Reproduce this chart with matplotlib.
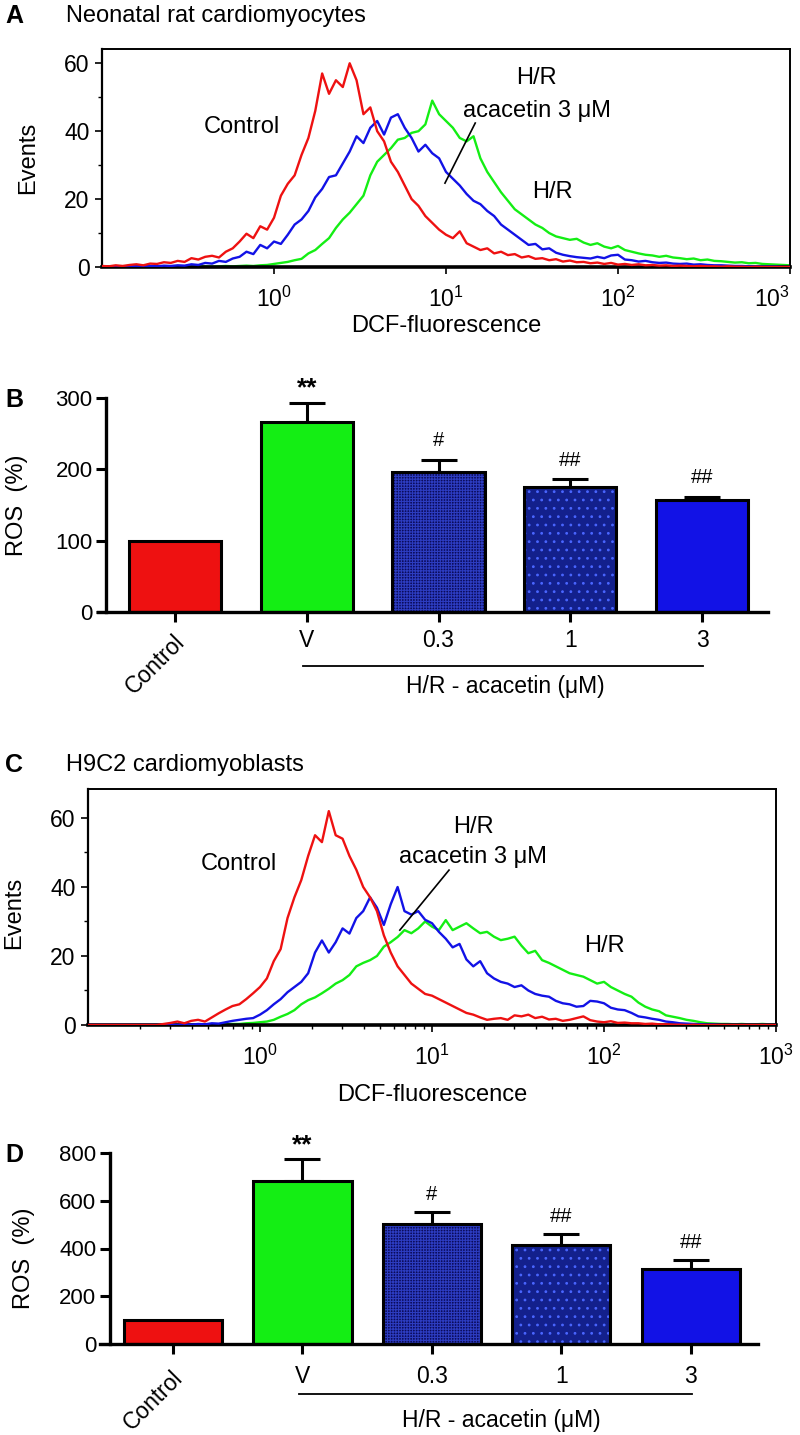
import numpy as np
import matplotlib
matplotlib.use('Agg')
import matplotlib.pyplot as plt
from matplotlib.ticker import FixedLocator, NullFormatter, LogLocator

plt.rcParams['font.family'] = ['Liberation Sans', 'DejaVu Sans']
plt.rcParams['mathtext.fontset'] = 'custom'
plt.rcParams['mathtext.rm'] = 'Liberation Sans'
plt.rcParams['mathtext.it'] = 'Liberation Sans:italic'
plt.rcParams['hatch.linewidth'] = 0.8

# ---------------- histogram data (log10 channel grid, 0.04 decade) ----------------
log_bins = np.round(np.arange(-1.0, 3.0001, 0.04), 2)

A_control = [0.3, 0.2, 0.5, 0.3, 0.6, 0.8, 0.5, 1.0, 0.9, 1.4,
             1.2, 1.8, 1.5, 2.6, 2.2, 3.0, 3.3, 2.8, 4.5, 5.5,
             7.5, 9.8, 8.5, 12.0, 11.0, 14.5, 21.0, 24.5, 27.0, 33.0,
             38, 46, 57, 51, 55, 53, 60, 55, 45, 47,
             40, 37, 31, 28, 24, 20, 18, 15, 13, 11,
             9.5, 8.5, 10.5, 7.0, 6.0, 5.0, 5.5, 4.0, 4.5, 3.5,
             3.8, 2.8, 3.2, 2.4, 2.6, 2.0, 2.3, 1.6, 1.9, 1.4,
             1.5, 1.1, 1.3, 0.9, 1.2, 0.7, 0.9, 0.6, 0.8, 0.5,
             0.6, 0.4, 0.5, 0.3, 0.4, 0.3, 0.2, 0.3, 0.2, 0.2,
             0.1, 0.2, 0.1, 0.1, 0.0, 0.1, 0.0, 0.0, 0.0, 0.0,
             0.0]
A_acacetin = [0.1, 0.0, 0.2, 0.1, 0.3, 0.2, 0.1, 0.3, 0.2, 0.4,
              0.3, 0.5, 0.4, 0.8, 0.6, 1.2, 1.0, 1.8, 1.5, 2.5,
              3.0, 4.5, 3.8, 6.5, 5.5, 7.5, 6.8, 9.5, 12.5, 14.0,
              16.5, 20.5, 23, 26.5, 27, 30.5, 34, 38.5, 36.5, 41,
              43, 39, 44, 45, 41, 38, 34, 36, 33.5, 32,
              28, 26, 24, 21.5, 19.5, 18.5, 16.5, 15, 12.5, 11,
              9.5, 8.0, 6.5, 6.8, 5.2, 5.5, 4.2, 3.6, 3.2, 2.9,
              2.7, 2.5, 3.0, 2.6, 3.4, 3.6, 2.2, 2.0, 1.6, 1.8,
              1.4, 1.2, 1.3, 1.0, 0.9, 1.0, 0.7, 0.8, 0.6, 0.5,
              0.5, 0.4, 0.3, 0.3, 0.2, 0.2, 0.1, 0.1, 0.1, 0.0,
              0.0]
A_HR = [0, 0, 0, 0, 0, 0, 0, 0, 0, 0.1,
        0.0, 0.1, 0.0, 0.1, 0.1, 0.2, 0.1, 0.2, 0.3, 0.2,
        0.3, 0.4, 0.3, 0.5, 0.6, 0.9, 1.2, 1.5, 2.0, 2.4,
        4.0, 5.0, 6.8, 8.5, 11.5, 14, 16, 18.5, 21, 27,
        31, 33, 35, 37.5, 38, 39.5, 40, 42, 49, 45,
        43, 41, 38, 37, 38.5, 32, 28, 25, 22, 19.5,
        17, 15.5, 14, 12.5, 11.5, 10, 9, 8.5, 8, 8.3,
        7.2, 6.5, 7.0, 6.0, 5.5, 6.2, 5.0, 4.5, 4.0, 3.6,
        3.4, 3.0, 3.3, 2.8, 2.6, 2.3, 2.5, 2.0, 2.2, 1.8,
        1.7, 1.5, 1.3, 1.4, 1.1, 1.2, 0.9, 0.8, 0.7, 0.6,
        0.5]

C_control = [0, 0, 0, 0, 0, 0, 0, 0, 0, 0,
             0.0, 0.3, 0.6, 1.0, 0.5, 1.2, 1.5, 1.0, 2.2, 3.4,
             4.5, 5.5, 6.0, 7.5, 9.2, 11, 13.5, 18.5, 22, 31,
             37, 42, 49, 55, 53, 62, 55, 54, 49, 45,
             40, 37, 33, 26, 21, 17, 14.5, 12, 10.5, 9,
             8.5, 7.5, 6.5, 5.5, 4.5, 3.5, 3.0, 2.2, 1.5, 1.8,
             2.0, 1.5, 2.8, 2.5, 3.0, 2.0, 2.4, 1.6, 1.8, 1.2,
             1.5, 2.0, 2.5, 1.4, 1.0, 0.8, 1.1, 0.6, 0.7, 0.5,
             0.5, 0.3, 0.4, 0.2, 0.2, 0.1, 0.1, 0.0, 0.1, 0.0,
             0, 0, 0, 0, 0, 0, 0, 0, 0, 0,
             0]
C_acacetin = [0, 0, 0, 0, 0, 0, 0, 0, 0, 0,
              0, 0, 0.1, 0, 0.2, 0.1, 0.3, 0.2, 0.5, 0.4,
              0.8, 1.2, 1.5, 1.8, 2.0, 3.0, 4.3, 6.0, 7.5, 9.5,
              11, 12.5, 15, 21, 24.5, 21, 24, 28, 26.5, 31,
              33, 37, 34, 29, 35, 40, 33, 32, 33, 30.5,
              29.5, 27, 25, 22.5, 23.5, 19, 17, 18.5, 15, 13.5,
              12.5, 12, 11, 11.5, 10, 9, 8.5, 8.2, 7, 6.3,
              6.0, 5.3, 5.5, 7.0, 6.8, 6.3, 5.0, 4.5, 4.3, 3.5,
              2.5, 2.2, 1.8, 1.5, 1.0, 0.8, 0.5, 0.4, 0.3, 0.2,
              0.1, 0.1, 0, 0, 0, 0, 0, 0, 0, 0,
              0]
C_HR = [0, 0, 0, 0, 0, 0, 0, 0, 0, 0,
        0, 0, 0, 0, 0, 0, 0, 0.1, 0.1, 0.2,
        0.2, 0.3, 0.3, 0.5, 0.6, 0.8, 1.0, 1.5, 2.4, 3.2,
        4.3, 6.0, 7.2, 8.0, 9.2, 10.5, 12, 13, 14.5, 17,
        18, 18.8, 20, 22.7, 24, 25.5, 27.5, 26.6, 28, 30,
        28.5, 27.5, 30.4, 27.5, 28.5, 29.5, 28, 26.6, 27, 25.6,
        24.6, 25, 25.6, 23, 20.8, 21.5, 18.8, 18, 17, 16,
        15, 14.5, 14, 13, 12, 12.5, 11, 10, 9, 8.2,
        6.5, 5.3, 4.5, 4.0, 2.8, 2.4, 2.0, 1.5, 1.2, 0.8,
        0.5, 0.4, 0.3, 0.3, 0.2, 0.3, 0.2, 0.2, 0.3, 0.2,
        0.2]

# ---------------- bar data ----------------
bar_labels = ['Control', 'V', '0.3', '1', '3']
B_mean = [100, 266, 196, 175, 157]
B_err = [0, 27, 17, 11, 4]
D_mean = [100, 683, 502, 415, 314]
D_err = [0, 92, 51, 45, 38]
sig_marks = ['', '**', '#', '##', '##']

W, H = 800, 1435
fig = plt.figure(figsize=(W / 100, H / 100), dpi=100)


def rect(left, right, top, bottom):
    return [left / W, 1 - bottom / H, (right - left) / W, (bottom - top) / H]


def ftxt(x, y, s, **kw):
    fig.text(x / W, 1 - y / H, s, **kw)


col_red = '#EE1111'
col_green = '#14EE14'
col_blue = '#1212E6'

TS = 16.5


def hist_panel(r, ymax, ctrl, acac, hr, minor_x, last_right):
    ax = fig.add_axes(r)
    x = 10 ** log_bins
    ax.plot(x, hr, color=col_green, lw=1.7, zorder=2)
    ax.plot(x, acac, color=col_blue, lw=1.7, zorder=3)
    ax.plot(x, ctrl, color=col_red, lw=1.7, zorder=4)
    ax.set_xscale('log')
    ax.set_xlim(0.1, 1000)
    ax.set_ylim(0, ymax)
    ax.set_xticks([1, 10, 100, 1000])
    ax.set_xticklabels([r'$10^{0}$', r'$10^{1}$', r'$10^{2}$', r'$10^{3}$'])
    if minor_x:
        ax.xaxis.set_minor_locator(LogLocator(base=10, subs=np.arange(2, 10)))
    else:
        ax.xaxis.set_minor_locator(FixedLocator([]))
    ax.xaxis.set_minor_formatter(NullFormatter())
    ax.set_yticks([0, 20, 40, 60])
    ax.yaxis.set_minor_locator(FixedLocator([10, 30, 50]))
    ax.tick_params(axis='both', which='major', direction='out', length=5, width=1.2,
                   labelsize=TS, pad=4)
    ax.tick_params(axis='x', which='major', pad=9)
    ax.tick_params(axis='both', which='minor', direction='out', length=3, width=1.0)
    if last_right:
        ax.get_xticklabels()[-1].set_horizontalalignment('right')
    for s in ['top', 'right']:
        ax.spines[s].set_linewidth(1.4)
    ax.spines['left'].set_linewidth(1.6)
    ax.spines['bottom'].set_linewidth(2.6)
    return ax


def bar_panel(r, means, errs, ymax, yticks, width, xlo, xhi, spine_x, lab_pad):
    ax = fig.add_axes(r)
    xs = np.arange(len(means))
    faces = [col_red, col_green, '#0b0b5a', '#13208c', col_blue]
    hatch_cols = [None, None, '#2c3cc0', '#4a66ff', None]
    hatches = [None, None, '++++++', '..', None]
    for i in range(len(means)):
        if hatches[i]:
            ax.bar(xs[i], means[i], width, color=faces[i], edgecolor=hatch_cols[i],
                   hatch=hatches[i], linewidth=0, zorder=2)
        else:
            ax.bar(xs[i], means[i], width, color=faces[i], linewidth=0, zorder=2)
    ax.bar(xs, means, width, fill=False, edgecolor='black', linewidth=2.2, zorder=3)
    ax.errorbar(xs[1:], means[1:], yerr=[np.zeros(len(xs) - 1), errs[1:]], fmt='none',
                ecolor='black', elinewidth=2.2, capsize=13, capthick=2.2, zorder=1)
    for i, m in enumerate(sig_marks):
        if not m:
            continue
        if m == '**':
            ax.text(xs[i], means[i] + errs[i] + 0.07 * ymax, m, ha='center', va='center',
                    fontsize=19, fontweight='bold')
        else:
            ax.text(xs[i], means[i] + errs[i] + 0.09 * ymax, m, ha='center', va='center',
                    fontsize=14.5)
    ax.set_xlim(xlo, xhi)
    ax.set_ylim(0, ymax)
    ax.set_yticks(yticks)
    ax.set_xticks(xs)
    ax.set_xticklabels([''] + bar_labels[1:])
    ax.annotate(bar_labels[0], xy=(0, 0), xycoords=('data', 'axes fraction'),
                xytext=(-1, -lab_pad - 8), textcoords='offset points',
                ha='right', va='top', rotation=45, rotation_mode='anchor', fontsize=TS)
    for s in ['top', 'right']:
        ax.spines[s].set_visible(False)
    ax.spines['left'].set_position(('data', spine_x))
    ax.spines['left'].set_linewidth(2.4)
    ax.spines['bottom'].set_linewidth(2.4)
    ax.tick_params(axis='y', direction='out', length=7, width=2.2, labelsize=TS - 0.5, pad=3)
    ax.tick_params(axis='x', direction='out', length=7, width=2.2, labelsize=TS, pad=lab_pad)
    return ax


# ---------------- Panel A ----------------
axA = hist_panel(rect(102, 790, 49, 267), 64.2, A_control, A_acacetin, A_HR, False, True)
axA.text(0.65, 41.2, 'Control', ha='center', va='center', fontsize=17)
axA.text(33.6, 55.6, 'H/R', ha='center', va='center', fontsize=17)
axA.text(34, 45.9, 'acacetin 3 \u03bcM', ha='center', va='center', fontsize=17)
axA.text(41.7, 22, 'H/R', ha='center', va='center', fontsize=17)
axA.plot([10 ** 1.17, 10 ** 0.994], [42.4, 24.7], color='black', lw=1.2, zorder=6)
ftxt(5, 16, 'A', fontsize=18, fontweight='bold', va='center', ha='left')
ftxt(66, 16, 'Neonatal rat cardiomyocytes', fontsize=17, va='center', ha='left')
ftxt(28, 158, 'Events', fontsize=17, va='center', ha='center', rotation=90)
ftxt(446, 326, 'DCF-fluorescence', fontsize=17, va='center', ha='center')

# ---------------- Panel B ----------------
wB = 0.70
axB = bar_panel(rect(98, 768, 398, 612), B_mean, B_err, 300, [0, 100, 200, 300], wB,
                -0.584, 4.5, -0.52, 5)
axB.plot([0.97, 4.01], [-0.252, -0.252], transform=axB.get_xaxis_transform(),
         color='black', lw=1.3, clip_on=False)
axB.text(2.51, -0.35, 'H/R - acacetin (\u03bcM)', transform=axB.get_xaxis_transform(),
         ha='center', va='center', fontsize=TS)
ftxt(5, 400, 'B', fontsize=18, fontweight='bold', va='center', ha='left')
ftxt(17, 505, 'ROS  (%)', fontsize=17, va='center', ha='center', rotation=90)

# ---------------- Panel C ----------------
axC = hist_panel(rect(88, 776, 789, 1025), 68.4, C_control, C_acacetin, C_HR, True, False)
axC.text(0.753, 46.7, 'Control', ha='center', va='center', fontsize=17)
axC.text(17.4, 57.4, 'H/R', ha='center', va='center', fontsize=17)
axC.text(17.2, 48.7, 'acacetin 3 \u03bcM', ha='center', va='center', fontsize=17)
axC.text(100, 22.9, 'H/R', ha='center', va='center', fontsize=17)
axC.plot([10 ** 1.099, 10 ** 0.813], [44.9, 27.5], color='black', lw=1.2, zorder=6)
ftxt(5, 765, 'C', fontsize=18, fontweight='bold', va='center', ha='left')
ftxt(66, 765, 'H9C2 cardiomyoblasts', fontsize=17, va='center', ha='left')
ftxt(14, 913, 'Events', fontsize=17, va='center', ha='center', rotation=90)
ftxt(432, 1095, 'DCF-fluorescence', fontsize=17, va='center', ha='center')

# ---------------- Panel D ----------------
wD = 0.76
axD = bar_panel(rect(100, 758, 1153, 1344), D_mean, D_err, 800, [0, 200, 400, 600, 800], wD,
                -0.564, 4.52, -0.486, 8)
axD.plot([0.97, 4.01], [-0.262, -0.262], transform=axD.get_xaxis_transform(),
         color='black', lw=1.3, clip_on=False)
axD.text(2.54, -0.398, 'H/R - acacetin (\u03bcM)', transform=axD.get_xaxis_transform(),
         ha='center', va='center', fontsize=TS)
ftxt(5, 1155, 'D', fontsize=18, fontweight='bold', va='center', ha='left')
ftxt(24, 1258, 'ROS  (%)', fontsize=17, va='center', ha='center', rotation=90)

fig.savefig('out.png', dpi=100)
